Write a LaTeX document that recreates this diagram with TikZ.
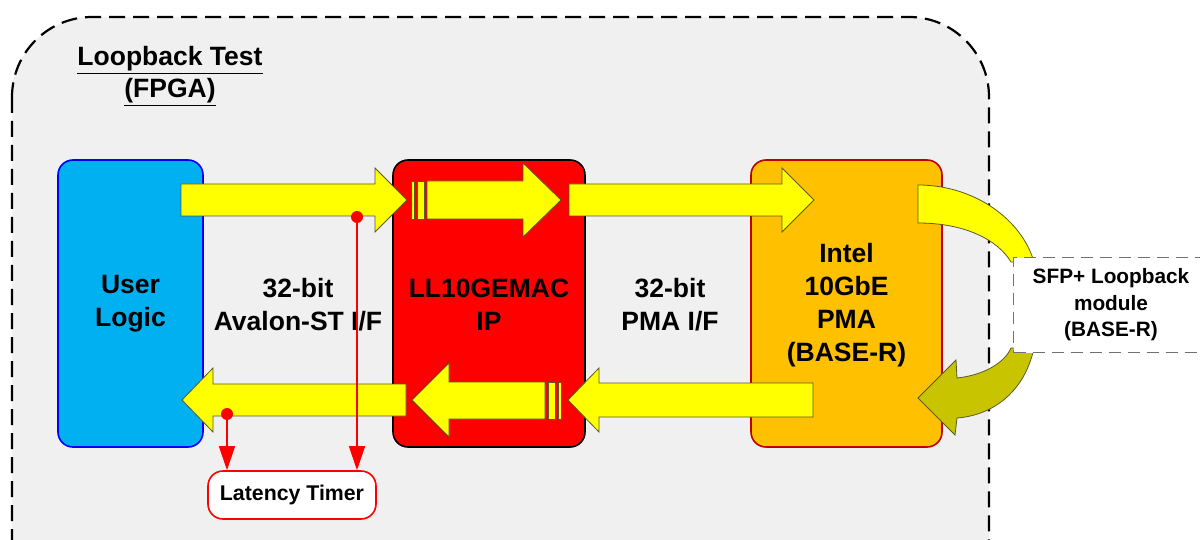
\documentclass[tikz,border=0pt]{standalone}
\usepackage{fontspec}
\setmainfont{Liberation Sans}
\usetikzlibrary{arrows.meta}
\definecolor{bgray}{HTML}{F0F0F0}
\definecolor{ublue}{HTML}{00B0F0}
\definecolor{ubord}{HTML}{0000FF}
\definecolor{macred}{HTML}{FF0000}
\definecolor{pmaor}{HTML}{FFC000}
\definecolor{pmabord}{HTML}{C00000}
\definecolor{arrowy}{HTML}{FFFF00}
\definecolor{arrowline}{HTML}{5A5A28}
\definecolor{olive2}{HTML}{C8C400}
\definecolor{sfpdash}{HTML}{707070}
\begin{document}
\begin{tikzpicture}[x=1pt,y=-1pt,
  blockbox/.style={rectangle, rounded corners=15pt, line width=1.6pt, inner sep=0pt,
    align=center, font=\fontsize{26.5}{33}\selectfont\bfseries},
  lbl/.style={align=center, font=\fontsize{26.5}{33}\selectfont\bfseries},
  yarrow/.style={fill=arrowy, draw=arrowline, line width=0.8pt, line join=miter},
  oarrow/.style={fill=olive2, draw=arrowline, line width=0.8pt},
  tap/.style={draw=macred, line width=1.4pt, -{Triangle[length=24pt,width=16pt]}},
  tapdot/.style={fill=macred, draw=none}]
\useasboundingbox (0,0) rectangle (1200,540);
\clip (0,0) rectangle (1200,540);
\fill[white] (0,0) rectangle (1200,540);
% outer FPGA region
\draw[fill=bgray, line width=2.2pt, dash pattern=on 16pt off 8pt, rounded corners=80pt]
  (12,17) rectangle (989,640);
\node[lbl, font=\fontsize{26.5}{32}\selectfont\bfseries] (title) at (170,76)
  {\underline{Loopback Test}\\\underline{(FPGA)}};
% blocks
\node[blockbox, fill=ublue, draw=ubord, minimum width=145pt, minimum height=287pt]
  (ul) at (130.5,303.5) {User\\Logic};
\node[blockbox, fill=macred, draw=black, minimum width=192pt, minimum height=287pt]
  (mac) at (489,303.5) {};
\node[blockbox, fill=pmaor, draw=pmabord, minimum width=191pt, minimum height=287pt]
  (pma) at (846.5,303.5) {};
\node[lbl] (avl) at (298,305) {32-bit\\Avalon-ST I/F};
\node[lbl] (pmaif) at (670,305) {32-bit\\PMA I/F};
% yellow block arrows, TX path
\filldraw[yarrow] (181,184) -- (375,184) -- (375,168) -- (407,200) -- (375,232) -- (375,216) -- (181,216) -- cycle;
\filldraw[yarrow] (411,181) rectangle (414,219);
\filldraw[yarrow] (417,181) rectangle (424,219);
\filldraw[yarrow] (427,181) -- (523,181) -- (523,163) -- (561,200) -- (523,237) -- (523,219) -- (427,219) -- cycle;
\filldraw[yarrow] (569,184) -- (782,184) -- (782,168) -- (814,200) -- (782,232) -- (782,216) -- (569,216) -- cycle;
% RX path
\filldraw[yarrow] (813,383) -- (599,383) -- (599,368) -- (568,400) -- (599,432) -- (599,417) -- (813,417) -- cycle;
\filldraw[yarrow] (545,382) -- (449,382) -- (449,363) -- (412,400) -- (449,437) -- (449,419) -- (545,419) -- cycle;
\filldraw[yarrow] (548,382) rectangle (555,419);
\filldraw[yarrow] (558,382) rectangle (561,419);
\filldraw[yarrow] (406,384) -- (213,384) -- (213,368) -- (182,400) -- (213,432) -- (213,416) -- (406,416) -- cycle;
% texts on top of blocks
\node[lbl] (mactext) at (489,305) {LL10GEMAC\\IP};
\node[lbl] (pmatext) at (846.5,305) {Intel\\10GbE\\PMA\\(BASE-R)};
% loopback bands
\filldraw[yarrow] (918,185) .. controls (975,185) and (1022,220) .. (1034,262)
  -- (1011,262) .. controls (998,240) and (965,223) .. (918,223) -- cycle;
\filldraw[oarrow] (1034,348) .. controls (1025,390) and (995,415) .. (957,418)
  -- (955,435) -- (918,398) -- (956,360) -- (957,378)
  .. controls (985,375) and (1005,362) .. (1011,348) -- cycle;
% SFP module
\node[rectangle, fill=white, draw=sfpdash, line width=1.4pt, dash pattern=on 12pt off 7pt,
  minimum width=220pt, minimum height=95pt, anchor=north west, inner sep=0pt]
  (sfp) at (1013,257) {};
\node[align=center, font=\fontsize{20.8}{26.5}\selectfont\bfseries] (sfptext) at (1111,305)
  {SFP+ Loopback\\module\\(BASE-R)};
% latency timer
\node[rectangle, rounded corners=15pt, fill=white, draw=macred, line width=1.6pt,
  minimum width=168pt, minimum height=48pt, font=\fontsize{21.3}{24}\selectfont\bfseries]
  (lt) at (292,495) {Latency Timer};
\coordinate (tx) at (357,217);
\coordinate (rx) at (227,414);
\draw[tap] (tx) -- (tx |- lt.north);
\draw[tap] (rx) -- (rx |- lt.north);
\fill[tapdot] (tx) circle (6pt);
\fill[tapdot] (rx) circle (6pt);
\end{tikzpicture}
\end{document}
